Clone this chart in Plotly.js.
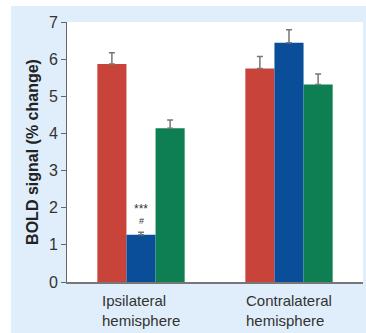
<!DOCTYPE html>
<html>
<head>
<meta charset="utf-8">
<script src="https://cdn.plot.ly/plotly-3.0.1.min.js"></script>
<style>
  html, body { margin: 0; padding: 0; background: #ffffff; }
  #chart { position: absolute; left: 11px; top: 6px; width: 355px; height: 327px; }
</style>
</head>
<body>
<div id="chart"></div>
<script>
const categories = ["Ipsilateral<br>hemisphere", "Contralateral<br>hemisphere"];
const seriesNames = ["Condition A", "Condition B", "Condition C"];
const seriesA = [5.87, 5.75];
const seriesB = [1.27, 6.44];
const seriesC = [4.14, 5.32];
const errA = [0.30, 0.32];
const errB = [0.07, 0.35];
const errC = [0.22, 0.28];
const colors = ["#c8433a", "#0a4e9a", "#0e7f52"];

const values = [seriesA, seriesB, seriesC];
const errs = [errA, errB, errC];

const traces = values.map((v, i) => ({
  type: "bar",
  name: seriesNames[i],
  x: categories,
  y: v,
  marker: { color: colors[i], line: { width: 0 } },
  error_y: {
    type: "data",
    array: errs[i],
    arrayminus: [0, 0],
    symmetric: false,
    color: "#777777",
    thickness: 1.5,
    width: 3
  },
  hoverinfo: "skip"
}));

const labelAnnotations = categories.map(c => ({
  x: c, xref: "x", y: 0, yref: "paper",
  yshift: -8, yanchor: "top", xanchor: "center", align: "left",
  text: c, showarrow: false,
  font: { size: 15, color: "#333333" }
}));

const layout = {
  width: 355,
  height: 327,
  margin: { l: 56, r: 3, t: 16, b: 51 },
  paper_bgcolor: "#dfeefa",
  plot_bgcolor: "#ffffff",
  barmode: "group",
  bargap: 0.41,
  bargroupgap: 0,
  showlegend: false,
  font: { family: "Liberation Sans, Arial, sans-serif", color: "#333333" },
  xaxis: {
    type: "category",
    showgrid: false,
    zeroline: false,
    showline: true,
    linecolor: "#777777",
    linewidth: 1.5,
    ticks: "",
    showticklabels: false,
    fixedrange: true
  },
  yaxis: {
    range: [0, 7],
    tickvals: [0, 1, 2, 3, 4, 5, 6, 7],
    ticks: "outside",
    ticklen: 5,
    tickcolor: "#666666",
    tickwidth: 1,
    showgrid: false,
    zeroline: false,
    showline: true,
    linecolor: "#666666",
    linewidth: 1,
    tickfont: { size: 16, color: "#333333" },
    title: {
      text: "<b>BOLD signal (% change)</b>",
      font: { size: 16, color: "#222222" },
      standoff: 6
    },
    fixedrange: true
  },
  annotations: labelAnnotations.concat([
    { x: categories[0], y: 1.97, xref: "x", yref: "y", text: "***", showarrow: false, font: { size: 12, color: "#333333" } },
    { x: categories[0], y: 1.65, xref: "x", yref: "y", text: "#", showarrow: false, font: { size: 9, color: "#333333" } }
  ])
};

Plotly.newPlot("chart", traces, layout, { displayModeBar: false, staticPlot: true });
</script>
</body>
</html>
